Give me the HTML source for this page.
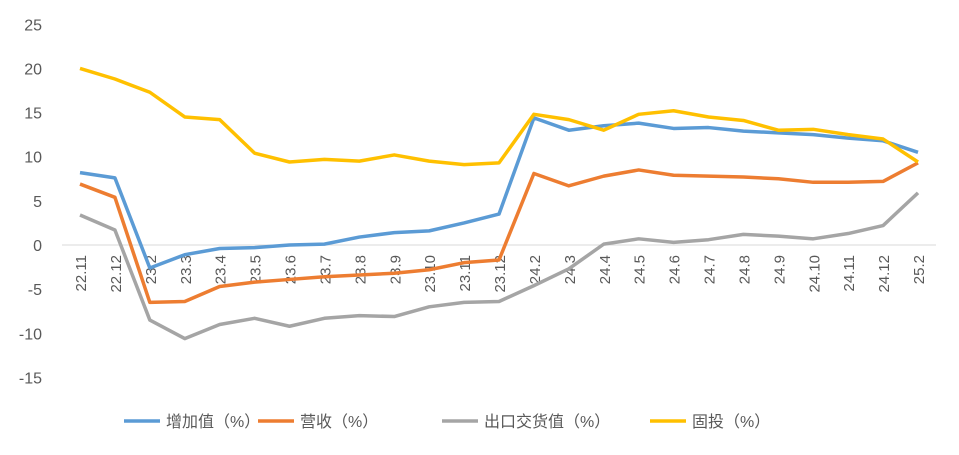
<!DOCTYPE html>
<html><head><meta charset="utf-8"><style>
body{margin:0;background:#fff;}
svg{display:block;font-family:"Liberation Sans","Noto Sans CJK SC",sans-serif;}
</style></head><body>
<svg id="chart" width="959" height="455" viewBox="0 0 959 455" xmlns="http://www.w3.org/2000/svg">
<rect width="959" height="455" fill="#fff"/>
<g id="yticks"></g><g id="xticks"></g><g id="series"></g><g id="legend"></g>
</svg>
<script>
const categories=["22.11","22.12","23.2","23.3","23.4","23.5","23.6","23.7","23.8","23.9","23.10","23.11","23.12","24.2","24.3","24.4","24.5","24.6","24.7","24.8","24.9","24.10","24.11","24.12","25.2"];
const yTicks=[25,20,15,10,5,0,-5,-10,-15];
const valueAdded=[8.2,7.6,-2.6,-1.1,-0.4,-0.3,0,0.1,0.9,1.4,1.6,2.5,3.5,14.4,13,13.5,13.8,13.2,13.3,12.9,12.7,12.5,12.1,11.8,10.5];
const revenue=[6.9,5.4,-6.5,-6.4,-4.7,-4.2,-3.9,-3.6,-3.4,-3.2,-2.8,-2,-1.7,8.1,6.7,7.8,8.5,7.9,7.8,7.7,7.5,7.1,7.1,7.2,9.3];
const exportValue=[3.4,1.7,-8.5,-10.6,-9,-8.3,-9.2,-8.3,-8,-8.1,-7,-6.5,-6.4,-4.6,-2.7,0.1,0.7,0.3,0.6,1.2,1,0.7,1.3,2.2,5.9];
const fixedInvest=[20,18.8,17.3,14.5,14.2,10.4,9.4,9.7,9.5,10.2,9.5,9.1,9.3,14.8,14.2,13,14.8,15.2,14.5,14.1,13,13.1,12.5,12,9.4];
const seriesNames=["增加值（%）","营收（%）","出口交货值（%）","固投（%）"];
const NS="http://www.w3.org/2000/svg";
const x=i=>80+i*(918-80)/(categories.length-1);
const y=v=>245-v*8.83;
function mk(tag,attrs,parent){const e=document.createElementNS(NS,tag);for(const k in attrs)e.setAttribute(k,attrs[k]);parent.appendChild(e);return e;}
const yt=document.getElementById('yticks');
yTicks.forEach(t=>{const e=mk('text',{x:42,y:y(t)+6,'text-anchor':'end','font-size':16,fill:'#595959'},yt);e.textContent=t;

});
const ax=mk('line',{x1:62,x2:936,y1:y(0),y2:y(0),stroke:'#d9d9d9','stroke-width':1},yt);


const xt=document.getElementById('xticks');
categories.forEach((c,i)=>{const e=mk('text',{transform:`translate(${x(i)+6},255) rotate(-90)`,'text-anchor':'end','font-size':15,fill:'#595959'},xt);e.textContent=c;

});
const colors=['#5b9bd5','#ed7d31','#a5a5a5','#ffc000'];
const data=[valueAdded,revenue,exportValue,fixedInvest];
const sg=document.getElementById('series');
[2,1,0,3].forEach(k=>{const p=mk('polyline',{points:data[k].map((v,i)=>x(i)+','+y(v)).join(' '),fill:'none',stroke:colors[k],'stroke-width':3.5,'stroke-linejoin':'round'},sg);

});
const lg=document.getElementById('legend');
const lx=[124,258,442,650];
seriesNames.forEach((n,k)=>{const g=mk('g',{},lg);


mk('line',{x1:lx[k],x2:lx[k]+36,y1:421,y2:421,stroke:colors[k],'stroke-width':3.5},g);
const t=mk('text',{x:lx[k]+42,y:427,'font-size':16,fill:'#595959'},g);t.textContent=n;});
</script>
</body></html>
